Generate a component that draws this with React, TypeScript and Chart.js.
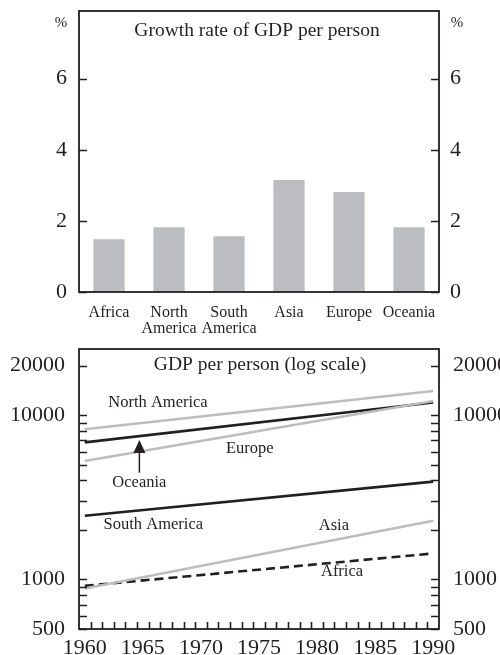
import React, { useEffect, useRef } from 'react';
import { Chart, registerables } from 'chart.js';

Chart.register(...registerables);

const FONT = "'Liberation Serif', 'Times New Roman', Times, serif";
const INK = '#231f20';
const GREY = '#bcbdc0';

// Growth rate of GDP per person, % per year
const regions = ['Africa', ['North', 'America'], ['South', 'America'], 'Asia', 'Europe', 'Oceania'];
const growthRates = [1.48, 1.82, 1.57, 3.15, 2.81, 1.82];
const growthTicks = [0, 2, 4, 6];

// GDP per person, log scale
const years = [1960, 1990];
const northAmerica = [8190, 14000];
const europe = [5250, 12170];
const oceania = [6820, 11910];
const southAmerica = [2440, 3935];
const asia = [881, 2275];
const africa = [915, 1440];
const gdpTicks = [500, 600, 700, 800, 900, 1000, 2000, 3000, 4000, 5000, 6000, 7000, 8000, 9000, 10000, 20000];
const gdpLabelled = [500, 1000, 10000, 20000];
const yearLabels = [1960, 1965, 1970, 1975, 1980, 1985, 1990];

// Series names written beside the lines, placed in data units
const seriesNotes = [
  { text: 'North America', year: 1966.3, value: 11830 },
  { text: 'Europe', year: 1974.2, value: 6210 },
  { text: 'Oceania', year: 1964.7, value: 3855 },
  { text: 'South America', year: 1965.9, value: 2141 },
  { text: 'Asia', year: 1981.45, value: 2110 },
  { text: 'Africa', year: 1982.15, value: 1108 },
];
// Arrow from the Oceania note up to its line
const oceaniaArrow = { year: 1964.7, from: 4458, to: 7049 };

const pairs = (ys: number[]) => years.map((x, i) => ({ x, y: ys[i] }));

// Keep the plot box exactly where the axis sizes put it
const noEdgePadding = (s: any) => {
  s.paddingTop = 0;
  s.paddingBottom = 0;
  s.paddingLeft = 0;
  s.paddingRight = 0;
};

// Box round the plot area, with tick marks pointing inwards
const framePlugin = {
  id: 'frame',
  afterDraw(chart: any, _args: any, opts: any) {
    const { ctx, chartArea: a } = chart;
    ctx.save();
    ctx.strokeStyle = INK;
    ctx.lineWidth = 1.6;
    ctx.beginPath();
    Object.values(chart.scales).forEach((s: any) => {
      if (s.axis !== 'y') return;
      s.ticks.forEach((t: any) => {
        const py = Math.round(s.getPixelForValue(t.value)) + 0.5;
        if (s.position === 'left') {
          ctx.moveTo(a.left, py);
          ctx.lineTo(a.left + 8, py);
        } else {
          ctx.moveTo(a.right, py);
          ctx.lineTo(a.right - 8, py);
        }
      });
    });
    if (opts && opts.yearTicks) {
      const xs = chart.scales.x;
      for (let y = years[0]; y < years[years.length - 1]; y++) {
        const px = Math.round(xs.getPixelForValue(y + 0.5)) + 0.5;
        ctx.moveTo(px, a.bottom);
        ctx.lineTo(px, a.bottom - 7);
      }
    }
    ctx.stroke();
    ctx.lineWidth = 1.8;
    ctx.strokeRect(a.left, a.top, a.right - a.left, a.bottom - a.top);

    // heading inside the box
    ctx.fillStyle = INK;
    ctx.font = `${opts.titleSize}px ${FONT}`;
    ctx.textAlign = 'center';
    ctx.textBaseline = 'middle';
    ctx.fillText(opts.title, (a.left + a.right) / 2 + opts.titleShift, a.top + opts.titleOffset);

    if (opts.unit) {
      ctx.font = `15px ${FONT}`;
      ctx.fillText(opts.unit, a.left - 18, a.top + 12);
      ctx.fillText(opts.unit, a.right + 18, a.top + 12);
    }
    ctx.restore();
  },
};

const notesPlugin = {
  id: 'notes',
  afterDatasetsDraw(chart: any) {
    const { ctx } = chart;
    const xs = chart.scales.x;
    const ys = chart.scales.y;
    ctx.save();
    ctx.fillStyle = INK;
    ctx.font = `16.5px ${FONT}`;
    ctx.textAlign = 'center';
    ctx.textBaseline = 'middle';
    seriesNotes.forEach((n) => {
      ctx.fillText(n.text, xs.getPixelForValue(n.year), ys.getPixelForValue(n.value));
    });
    const ax = xs.getPixelForValue(oceaniaArrow.year);
    const y0 = ys.getPixelForValue(oceaniaArrow.from);
    const y1 = ys.getPixelForValue(oceaniaArrow.to);
    ctx.strokeStyle = INK;
    ctx.lineWidth = 1.5;
    ctx.beginPath();
    ctx.moveTo(ax, y0);
    ctx.lineTo(ax, y1 + 10);
    ctx.stroke();
    ctx.beginPath();
    ctx.moveTo(ax, y1);
    ctx.lineTo(ax - 6, y1 + 13);
    ctx.lineTo(ax + 6, y1 + 13);
    ctx.closePath();
    ctx.fill();
    ctx.restore();
  },
};

function GrowthChart() {
  const ref = useRef<HTMLCanvasElement>(null);
  useEffect(() => {
    const yAxis = (position: 'left' | 'right', width: number, padding: number) => ({
      type: 'linear' as const,
      position,
      min: 0,
      max: 7.9,
      afterBuildTicks: (s: any) => {
        s.ticks = growthTicks.map((value) => ({ value }));
      },
      afterFit: (s: any) => {
        s.width = width;
        noEdgePadding(s);
      },
      grid: { display: false, drawTicks: false },
      border: { display: false },
      ticks: {
        color: INK,
        padding,
        autoSkip: false,
        font: { family: FONT, size: 22 },
        callback: (v: any) => String(v),
      },
    });
    const chart = new Chart(ref.current!, {
      type: 'bar',
      data: {
        labels: regions as any,
        datasets: [
          {
            data: growthRates,
            backgroundColor: GREY,
            barPercentage: 0.52,
            categoryPercentage: 1,
            yAxisID: 'y',
          },
        ],
      },
      options: {
        animation: false,
        responsive: false,
        devicePixelRatio: 1,
        layout: { padding: { top: 11, left: 0, right: 0, bottom: 0 } },
        plugins: {
          legend: { display: false },
          tooltip: { enabled: false },
          frame: { title: 'Growth rate of GDP per person', titleSize: 19.5, titleOffset: 20, titleShift: -2, unit: '%' },
        } as any,
        scales: {
          x: {
            grid: { display: false, drawTicks: false },
            border: { display: false },
            afterFit: (s: any) => {
              s.height = 46;
              noEdgePadding(s);
            },
            ticks: {
              color: INK,
              padding: 12,
              maxRotation: 0,
              autoSkip: false,
              font: { family: FONT, size: 16, lineHeight: 1.05 },
            },
          },
          y: yAxis('left', 79, 12),
          y2: yAxis('right', 61, 11),
        } as any,
      },
      plugins: [framePlugin],
    });
    return () => chart.destroy();
  }, []);
  return <canvas ref={ref} width={500} height={338} style={{ display: 'block' }} />;
}

function LevelChart() {
  const ref = useRef<HTMLCanvasElement>(null);
  useEffect(() => {
    const yAxis = (position: 'left' | 'right', width: number) => ({
      type: 'logarithmic' as const,
      position,
      min: 500,
      max: 25200,
      afterBuildTicks: (s: any) => {
        s.ticks = gdpTicks.map((value) => ({ value }));
      },
      afterFit: (s: any) => {
        s.width = width;
        noEdgePadding(s);
      },
      grid: { display: false, drawTicks: false },
      border: { display: false },
      ticks: {
        color: INK,
        padding: 14,
        autoSkip: false,
        font: { family: FONT, size: 22 },
        callback: (v: any) => (gdpLabelled.includes(Number(v)) ? String(v) : ''),
      },
    });
    const line = (data: number[], color: string, width: number, dash: number[] = []) => ({
      data: pairs(data),
      borderColor: color,
      borderWidth: width,
      borderDash: dash,
      pointRadius: 0,
      tension: 0,
      fill: false,
      yAxisID: 'y',
    });
    const chart = new Chart(ref.current!, {
      type: 'line',
      data: {
        datasets: [
          line(northAmerica, GREY, 2.4),
          line(europe, GREY, 2.4),
          line(asia, GREY, 2.4),
          line(oceania, INK, 2.6),
          line(southAmerica, INK, 2.6),
          line(africa, INK, 2.6, [9, 5]),
        ] as any,
      },
      options: {
        animation: false,
        responsive: false,
        devicePixelRatio: 1,
        layout: { padding: { top: 11, left: 0, right: 0, bottom: 0 } },
        plugins: {
          legend: { display: false },
          tooltip: { enabled: false },
          frame: { title: 'GDP per person (log scale)', titleSize: 19.5, titleOffset: 16, titleShift: 1, yearTicks: true },
        } as any,
        scales: {
          x: {
            type: 'linear',
            min: 1959.5,
            max: 1990.5,
            afterBuildTicks: (s: any) => {
              s.ticks = yearLabels.map((value) => ({ value }));
            },
            afterFit: (s: any) => {
              s.height = 26;
              noEdgePadding(s);
            },
            grid: { display: false, drawTicks: false },
            border: { display: false },
            ticks: {
              color: INK,
              padding: 6,
              maxRotation: 0,
              autoSkip: false,
              font: { family: FONT, size: 22 },
              callback: (v: any) => String(v),
            },
          },
          y: yAxis('left', 79),
          y2: yAxis('right', 61),
        } as any,
      },
      plugins: [framePlugin, notesPlugin],
    });
    return () => chart.destroy();
  }, []);
  return <canvas ref={ref} width={500} height={317} style={{ display: 'block' }} />;
}

export default function App() {
  return (
    <div style={{ position: 'absolute', left: 0, top: 0, width: 500, height: 655, background: '#fff' }}>
      <GrowthChart />
      <LevelChart />
    </div>
  );
}
